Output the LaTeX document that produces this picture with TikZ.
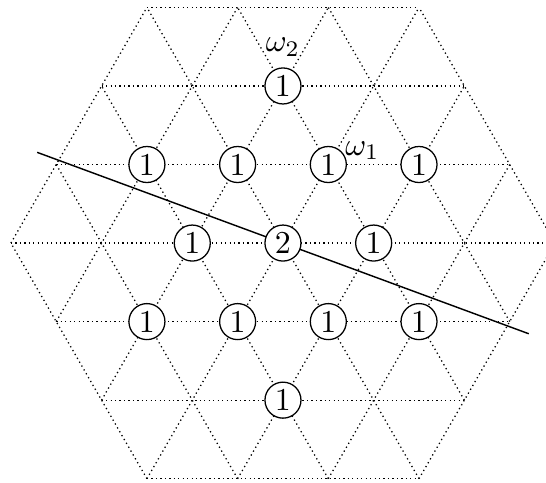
\documentclass[tikz,border=0pt]{standalone}
\tikzset{
  lattice/.style={densely dotted, line width=0.4pt},
  weight/.style={circle, draw, fill=white, inner sep=0pt, minimum size=11.3pt},
  wall/.style={line width=0.45pt},
  wlabel/.style={inner sep=0pt}
}
\begin{document}
\begin{tikzpicture}
\useasboundingbox (-3.12,-2.635) rectangle (2.90,2.68);
\clip (-3.12,-2.635) rectangle (2.90,2.68);
% triangular lattice clipped to a hexagon
\foreach \r in {0,60,120}{
  \foreach \k in {-3,...,3}{
    \pgfmathsetmacro\hx{3-abs(\k)/2}
    \pgfmathsetmacro\yy{\k*0.8660254}
    \draw[lattice, rotate=\r] (-\hx,\yy) -- (\hx,\yy);
  }
}
% wall line
\coordinate (ls) at (-2.71,1.0);
\coordinate (le) at (2.71,-1.0);
\draw[wall] (ls) -- (le);
% weights
\node[weight] (t)  at (0,1.7320508) {1};
\node[weight] (a1) at (-1.5,0.8660254) {1};
\node[weight] (a2) at (-0.5,0.8660254) {1};
\node[weight] (a3) at (0.5,0.8660254) {1};
\node[weight] (a4) at (1.5,0.8660254) {1};
\node[weight] (b1) at (-1,0) {1};
\node[weight] (b2) at (0,0) {2};
\node[weight] (b3) at (1,0) {1};
\node[weight] (c1) at (-1.5,-0.8660254) {1};
\node[weight] (c2) at (-0.5,-0.8660254) {1};
\node[weight] (c3) at (0.5,-0.8660254) {1};
\node[weight] (c4) at (1.5,-0.8660254) {1};
\node[weight] (d)  at (0,-1.7320508) {1};
% labels
\node[wlabel] (w2) at (0,2.16) {$\omega_2$};
\node[wlabel] (w1) at (0.875,1.02) {$\omega_1$};
\end{tikzpicture}
\end{document}
